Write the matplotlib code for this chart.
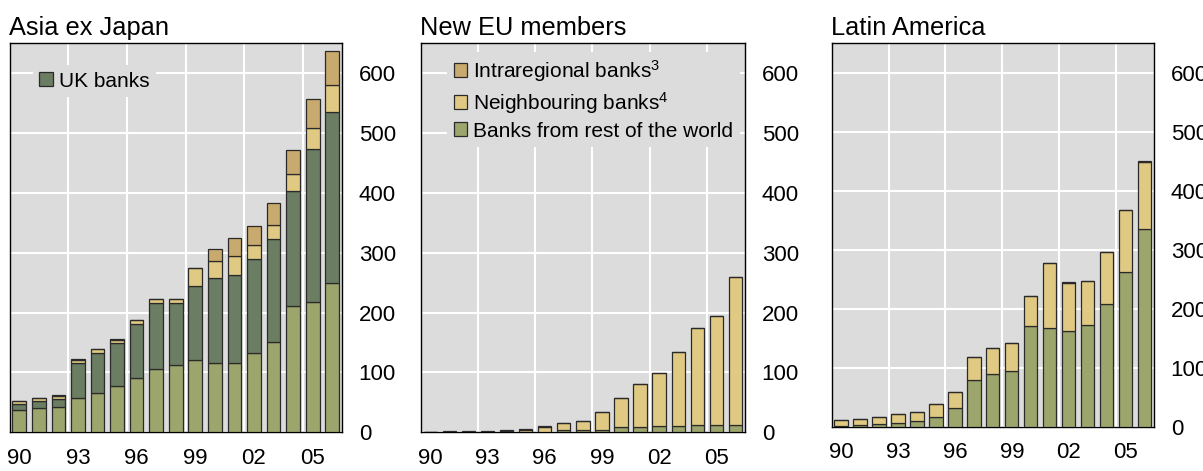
import numpy as np
import matplotlib.pyplot as plt

plt.rcParams['font.family'] = ['Liberation Sans', 'DejaVu Sans']
plt.rcParams['mathtext.fontset'] = 'custom'
plt.rcParams['mathtext.rm'] = 'Liberation Sans'
plt.rcParams['mathtext.it'] = 'Liberation Sans'

# ---------------------------------------------------------------------------
# Data (USD bn)
# ---------------------------------------------------------------------------
YEARS = list(range(1990, 2007))
TICK_YEARS = [1990, 1993, 1996, 1999, 2002, 2005]
TICK_LABELS = ["90", "93", "96", "99", "02", "05"]

# Asia ex Japan
ASIA_REST = [37, 40, 43, 58, 65, 77, 91, 105, 112, 120, 116, 116, 132, 151, 211, 217, 250]
ASIA_UK = [11, 12, 13, 58, 67, 72, 90, 111, 104, 125, 142, 147, 157, 172, 193, 257, 285]
ASIA_NEIGH = [4, 5, 4, 5, 8, 5, 7, 7, 7, 29, 29, 31, 24, 24, 27, 35, 45]
ASIA_INTRA = [1, 1, 3, 1, 0, 2, 0, 0, 0, 0, 20, 30, 32, 36, 40, 48, 58]

# New EU members
EU_REST = [0.3, 0.3, 0.3, 0.3, 0.5, 0.5, 1, 3, 4, 4.5, 8, 8, 10, 10, 12, 12, 13]
EU_NEIGH = [0.4, 0.8, 0.8, 0.8, 1.5, 4, 8.5, 12, 15.5, 30, 49, 73, 88.5, 124, 163, 183, 247]
EU_INTRA = [0.3, 0.4, 0.4, 0.4, 1, 0.5, 0.5, 0, 0, 0, 0, 0, 0, 0, 0, 0, 0]

# Latin America
LA_REST = [2, 3, 4, 7, 10, 17, 32, 80, 89, 95, 170, 168, 162, 172, 208, 262, 336]
LA_NEIGH = [9, 9.5, 13, 14, 15, 21, 27, 39, 45, 47, 51, 110, 82, 75, 88, 106, 113]
LA_INTRA = [0, 0, 0, 0, 0, 0, 0, 0, 0, 0, 0, 0, 1.5, 0, 0, 0, 1.5]

C_INTRA = "#c8aa6e"
C_NEIGH = "#dfc983"
C_UK = "#6b7d62"
C_REST = "#9ba56c"
BG = "#dcdcdc"


def draw_panel(ax, title, layers):
    x = np.arange(len(YEARS))
    bottom = np.zeros(len(YEARS))
    handles = {}
    for name, values, color in layers:
        vals = np.array(values, dtype=float)
        h = ax.bar(x, vals, width=0.7, bottom=bottom, color=color,
                   edgecolor="#2a2a2a", linewidth=0.9, zorder=3)
        handles[name] = h
        bottom += vals
    ax.set_facecolor(BG)
    ax.set_xlim(-0.5, len(YEARS) - 0.5)
    ax.set_ylim(0, 650)
    ax.set_yticks([0, 100, 200, 300, 400, 500, 600])
    ax.yaxis.tick_right()
    ax.set_xticks([YEARS.index(y) for y in TICK_YEARS])
    ax.set_xticklabels(TICK_LABELS)
    ax.set_xticks([YEARS.index(y) - 0.5 for y in TICK_YEARS[1:]], minor=True)
    ax.tick_params(axis="both", which="both", length=0, labelsize=16)
    ax.tick_params(axis="y", pad=12)
    ax.tick_params(axis="x", pad=11)
    ax.grid(False)
    ax.yaxis.grid(True, color="white", linewidth=1.5, zorder=0)
    ax.xaxis.grid(True, which="minor", color="white", linewidth=1.5, zorder=0)
    ax.set_axisbelow(True)
    for s in ax.spines.values():
        s.set_color("black")
        s.set_linewidth(1.0)
    ax.set_title(title, loc="left", fontsize=18.3, pad=6, x=-0.002)
    return handles


fig = plt.figure(figsize=(12.03, 4.71), dpi=100)
ax1 = fig.add_axes([0.0079, 0.0822, 0.2764, 0.8258])
ax2 = fig.add_axes([0.3497, 0.0822, 0.2696, 0.8258])
ax3 = fig.add_axes([0.6913, 0.0940, 0.2680, 0.8140])

h1 = draw_panel(ax1, "Asia ex Japan", [
    ("rest", ASIA_REST, C_REST),
    ("uk", ASIA_UK, C_UK),
    ("neigh", ASIA_NEIGH, C_NEIGH),
    ("intra", ASIA_INTRA, C_INTRA),
])
h2 = draw_panel(ax2, "New EU members", [
    ("rest", EU_REST, C_REST),
    ("neigh", EU_NEIGH, C_NEIGH),
    ("intra", EU_INTRA, C_INTRA),
])
h3 = draw_panel(ax3, "Latin America", [
    ("rest", LA_REST, C_REST),
    ("neigh", LA_NEIGH, C_NEIGH),
    ("intra", LA_INTRA, C_INTRA),
])

leg_kw = dict(loc="upper left", fontsize=15, frameon=True, facecolor=BG,
              edgecolor="none", framealpha=1, fancybox=False,
              handlelength=0.65, handleheight=0.65, handletextpad=0.3,
              borderpad=0.3)
ax1.legend([h1["uk"]], ["UK banks"], bbox_to_anchor=(0.04, 0.97), **leg_kw)
ax2.legend([h2["intra"], h2["neigh"], h2["rest"]],
           ["Intraregional banks$^{3}$", "Neighbouring banks$^{4}$",
            "Banks from rest of the world"],
           bbox_to_anchor=(0.05, 1.005), labelspacing=0.28, **leg_kw)

fig.savefig("out.png", dpi=100)
